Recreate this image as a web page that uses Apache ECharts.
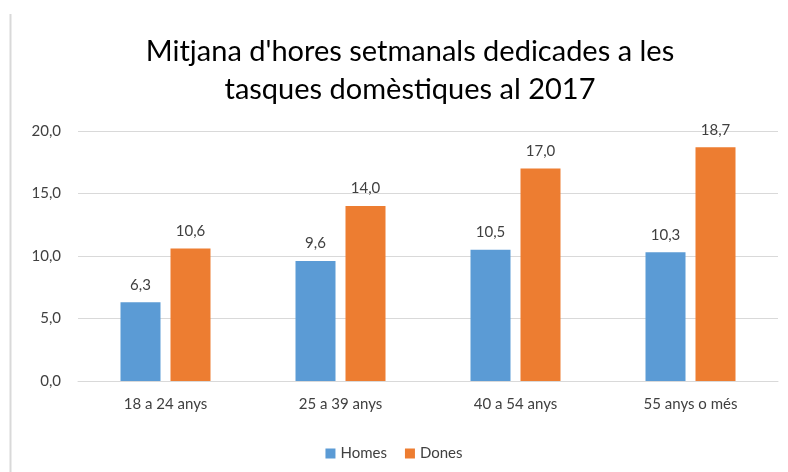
<!DOCTYPE html>
<html>
<head>
<meta charset="utf-8">
<script src="https://cdn.jsdelivr.net/npm/echarts@6/dist/echarts.min.js"></script>
<style>
  html, body { margin: 0; padding: 0; background: #fff; }
  #chart { width: 788px; height: 472px; }
</style>
</head>
<body>
<div id="chart"></div>
<script>
// categories and values
var categories = ['18 a 24 anys', '25 a 39 anys', '40 a 54 anys', '55 anys o més'];
var homes = [6.3, 9.6, 10.5, 10.3];
var dones = [10.6, 14.0, 17.0, 18.7];

var fmt = function (v) { return v.toFixed(1).replace('.', ','); };
var font = 'Lato, "Open Sans", sans-serif';

var chart = echarts.init(document.getElementById('chart'));
chart.setOption({
  animation: false,
  textStyle: { fontFamily: font },
  title: {
    text: "Mitjana d'hores setmanals dedicades a les\ntasques domèstiques al 2017",
    left: 405,
    textAlign: 'center',
    top: 28,
    textStyle: { fontFamily: font, fontSize: 29, fontWeight: 'normal', color: '#000', lineHeight: 38 }
  },
  legend: {
    data: ['Homes', 'Dones'],
    left: 'center',
    top: 441,
    icon: 'rect',
    itemWidth: 10,
    itemHeight: 10,
    itemGap: 18,
    textStyle: { fontFamily: font, fontSize: 15, color: '#404040' }
  },
  grid: { left: 78, right: 10, top: 131, bottom: 91, containLabel: false },
  xAxis: {
    type: 'category',
    data: categories,
    axisTick: { show: false },
    axisLine: { lineStyle: { color: '#d9d9d9', width: 1 } },
    axisLabel: { fontFamily: font, fontSize: 15, color: '#404040', margin: 16 }
  },
  yAxis: {
    type: 'value',
    min: 0,
    max: 20,
    interval: 5,
    axisLabel: { formatter: fmt, fontFamily: font, fontSize: 15, color: '#404040', margin: 17 },
    splitLine: { lineStyle: { color: '#d9d9d9' } }
  },
  series: [
    {
      name: 'Homes',
      type: 'bar',
      data: homes,
      barWidth: 40,
      barGap: '25%',
      itemStyle: { color: '#5b9bd5' },
      label: { show: true, position: 'top', distance: 10, formatter: function (p) { return fmt(p.value); }, fontFamily: font, fontSize: 15, color: '#404040' }
    },
    {
      name: 'Dones',
      type: 'bar',
      data: dones,
      barWidth: 40,
      barGap: '25%',
      itemStyle: { color: '#ed7d31' },
      label: { show: true, position: 'top', distance: 10, formatter: function (p) { return fmt(p.value); }, fontFamily: font, fontSize: 15, color: '#404040' }
    }
  ],
  graphic: [
    { type: 'line', shape: { x1: 10.5, y1: 14, x2: 10.5, y2: 472 }, style: { stroke: '#d9d9d9', lineWidth: 2 } }
  ]
});
</script>
</body>
</html>
